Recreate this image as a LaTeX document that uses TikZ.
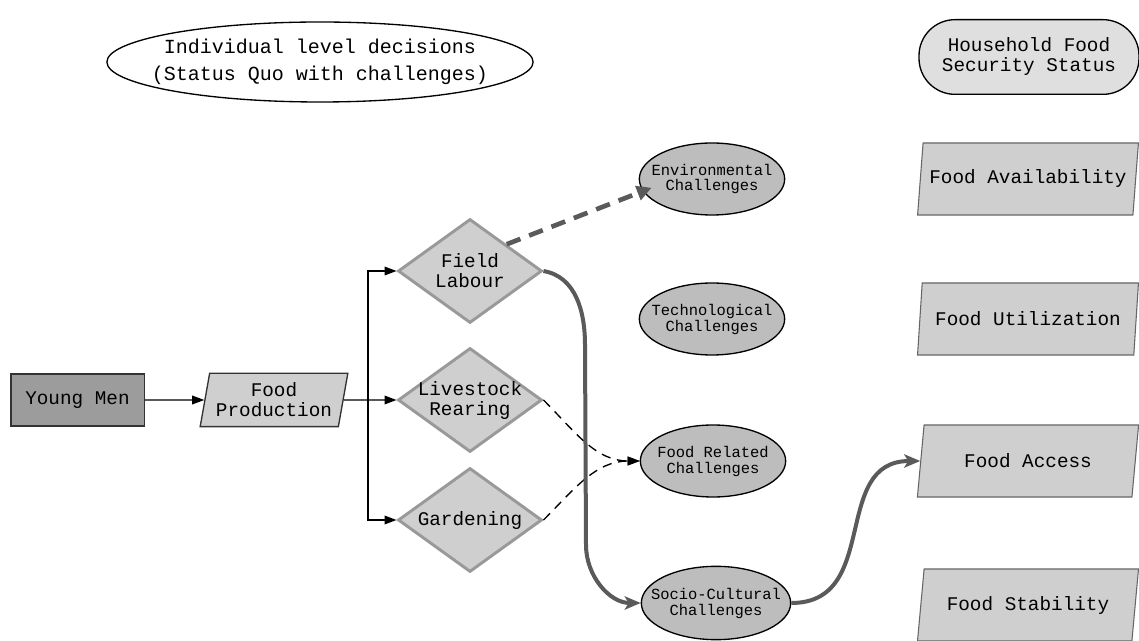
\documentclass[tikz,border=0pt]{standalone}
\usepackage{fontspec}
\setmainfont{Liberation Mono}
\usetikzlibrary{shapes.geometric,arrows.meta}
\definecolor{boxgrey}{HTML}{CFCFCF}
\definecolor{darkbox}{HTML}{9C9C9C}
\definecolor{ellgrey}{HTML}{BDBDBD}
\definecolor{diamline}{HTML}{999999}
\definecolor{curvegrey}{HTML}{5A5A5A}
\definecolor{capsule}{HTML}{DFDFDF}
\tikzset{
  bigtext/.style={font=\fontsize{14.5}{15}\selectfont, align=center},
  smalltext/.style={font=\fontsize{11.6}{12}\selectfont, align=center},
  para/.style={trapezium, trapezium stretches=true, trapezium left angle=74,
    trapezium right angle=106, draw=black!60, fill=boxgrey, line width=0.8pt,
    inner sep=0pt, minimum width=166pt, minimum height=54pt, bigtext},
  choice/.style={diamond, draw=diamline, fill=boxgrey, line width=2.2pt,
    inner sep=0pt, minimum width=108pt, minimum height=78pt},
  challenge/.style={ellipse, draw=black, fill=ellgrey, line width=1pt,
    inner xsep=-8pt, inner ysep=0pt, minimum width=109pt, minimum height=54pt, smalltext},
  arr/.style={line width=0.9pt, -{Triangle[length=9pt,width=6.5pt]}},
  dasharr/.style={line width=1pt, dash pattern=on 7pt off 5pt,
    -{Triangle[length=9pt,width=6.5pt]}},
  flow/.style={draw=curvegrey, line width=3pt,
    -{Stealth[length=12pt,width=10pt,inset=3pt]}},
  envarr/.style={draw=curvegrey, line width=3.5pt, dash pattern=on 11pt off 7pt,
    -{Triangle[length=11pt,width=11pt]}},
}
\begin{document}
\begin{tikzpicture}[x=0.75pt,y=-0.75pt]
\useasboundingbox (0,0) rectangle (1139,641);

% headings
\node[ellipse, draw=black, fill=white, line width=1pt, inner xsep=-13pt,
  inner ysep=0pt, minimum width=318pt, minimum height=60pt,
  font=\fontsize{15}{20}\selectfont, align=center]
  (title) at (320,62) {Individual level decisions\\(Status Quo with challenges)};
\node[rectangle, rounded corners=27pt, draw=black, fill=capsule, line width=1pt,
  inner sep=0pt, minimum width=165pt, minimum height=56pt, bigtext]
  (hfs) at (1029,57) {Household Food\\Security Status};

% left chain
\node[rectangle, draw=black!80, fill=darkbox, line width=1pt, inner sep=0pt,
  minimum width=100pt, minimum height=39pt, bigtext] (ym) at (77.5,400) {Young Men};
\node[trapezium, trapezium stretches=true, trapezium left angle=76,
  trapezium right angle=104, draw=black!80, fill=boxgrey, line width=1pt,
  inner sep=0pt, minimum width=111pt, minimum height=40pt, bigtext]
  (fp) at (274,400) {Food\\Production};

\node[choice, label={[bigtext]center:Field\\Labour}] (fl) at (470,271) {};
\node[choice, label={[bigtext]center:Livestock\\Rearing}] (lr) at (470,400) {};
\node[choice, label={[bigtext]center:Gardening}] (gd) at (470,520) {};

% challenges
\node[challenge] (env) at (712,179) {Environmental\\Challenges};
\node[challenge] (tec) at (712,319) {Technological\\Challenges};
\node[challenge] (frc) at (713,461) {Food Related\\Challenges};
\node[challenge, inner xsep=-9.5pt, minimum width=112pt, minimum height=55pt]
  (scc) at (716,603) {Socio-Cultural\\Challenges};

% food security dimensions
\node[para] (fav) at (1028,179) {Food Availability};
\node[para] (fut) at (1028,319) {Food Utilization};
\node[para] (fac) at (1028,461) {Food Access};
\node[para] (fst) at (1028,605) {Food Stability};

% connectors
\draw[arr] (ym.east) -- (fp.west);
\draw[arr] (fp.east) -- (lr.west);
\coordinate (split) at (368,400);
\draw[arr] (split) |- (fl.west);
\draw[arr] (split) |- (gd.west);

\draw[dasharr] (lr.east) to[out=-45,in=180] (frc.west);
\draw[dasharr] (gd.east) to[out=45,in=180] (frc.west);

\draw[envarr, shorten >=-7pt] (fl.north east) -- (env.190);

\coordinate (bendtop) at (585,345);
\coordinate (bendbot) at (586,545);
\draw[flow] (fl.east) to[out=-10,in=90] (bendtop) -- (bendbot)
  to[out=-90,in=180] (scc.west);
\draw[flow] (scc.east) to[out=0,in=180,looseness=1.2] (fac.west);
\end{tikzpicture}
\end{document}
